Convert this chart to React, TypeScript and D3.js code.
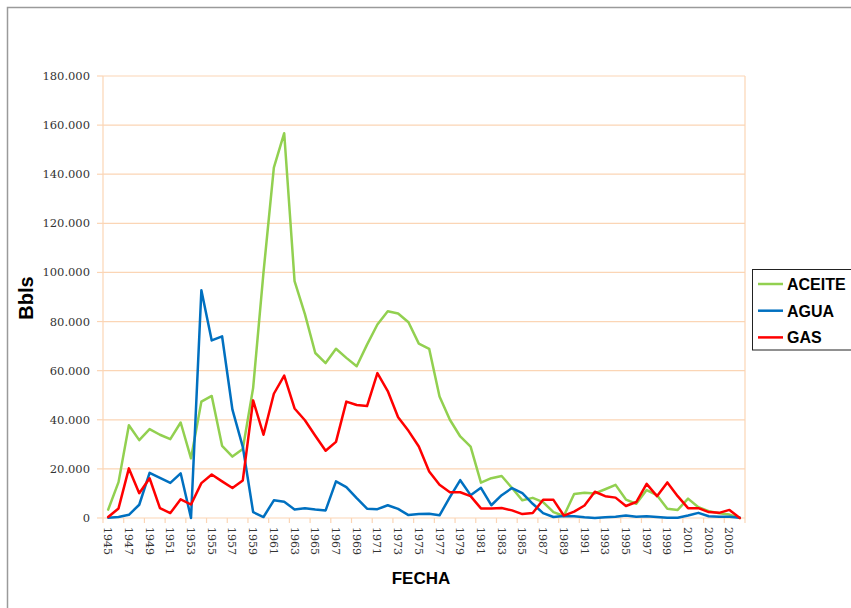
import React from "react";
import * as d3 from "d3";

// Producción anual por año (Bbls)
const years: number[] = [
  1945, 1946, 1947, 1948, 1949, 1950, 1951, 1952, 1953, 1954,
  1955, 1956, 1957, 1958, 1959, 1960, 1961, 1962, 1963, 1964,
  1965, 1966, 1967, 1968, 1969, 1970, 1971, 1972, 1973, 1974,
  1975, 1976, 1977, 1978, 1979, 1980, 1981, 1982, 1983, 1984,
  1985, 1986, 1987, 1988, 1989, 1990, 1991, 1992, 1993, 1994,
  1995, 1996, 1997, 1998, 1999, 2000, 2001, 2002, 2003, 2004,
  2005, 2006,
];

const aceite: number[] = [
  3400, 14600, 37800, 31700, 36200, 33900, 32100, 38900, 24300, 47400,
  49700, 29400, 25000, 28100, 53000, 100000, 142700, 156700, 96500, 83000,
  67200, 63100, 68900, 65200, 61800, 70600, 78800, 84200, 83300, 79700,
  71000, 68900, 49500, 40000, 33200, 29100, 14400, 16200, 17100, 12200,
  7200, 8200, 6500, 2400, 800, 9800, 10300, 10000, 11700, 13500,
  7500, 5800, 11400, 9300, 3800, 3300, 7900, 4400, 2800, 1900,
  1400, 0,
];

const agua: number[] = [
  100, 400, 1300, 5400, 18400, 16300, 14300, 18200, 0, 92700,
  72300, 74000, 44100, 29000, 2400, 400, 7200, 6600, 3500, 4000,
  3500, 3100, 14900, 12600, 8100, 3800, 3600, 5200, 3700, 1200,
  1600, 1700, 1100, 8500, 15400, 9300, 12300, 5200, 9300, 12200,
  10100, 5800, 2000, 400, 800, 700, 300, 0, 300, 500,
  1000, 500, 700, 400, 100, 100, 1000, 2100, 700, 500,
  500, 100,
];

const gas: number[] = [
  400, 3900, 20200, 10100, 16200, 4000, 2000, 7600, 5500, 14200,
  17700, 14900, 12200, 15300, 47900, 33900, 50600, 58000, 44600, 39800,
  33500, 27400, 31000, 47400, 46000, 45600, 59000, 51700, 41000, 35500,
  29100, 18900, 13500, 10500, 10500, 8900, 3900, 3900, 4100, 3100,
  1600, 2000, 7400, 7400, 1000, 2600, 5100, 10700, 8900, 8300,
  4900, 6500, 13900, 8900, 14500, 8900, 4000, 4000, 2400, 2100,
  3300, 0,
];

const yTicks: number[] = [0, 20000, 40000, 60000, 80000, 100000, 120000, 140000, 160000, 180000];

const seriesNames = ["ACEITE", "AGUA", "GAS"];
const seriesColors = ["#92D050", "#0070C0", "#FF0000"];

const W = 851;
const H = 608;
const plot = { left: 103, right: 745, top: 76, bottom: 518 };

const grid = "#FBD5B5";

const locale = d3.formatLocale({
  decimal: ",",
  thousands: ".",
  grouping: [3],
  currency: ["$", ""],
});
const fmt = locale.format(",d");

export default function App() {
  const x = d3
    .scaleBand<number>()
    .domain(years)
    .range([plot.left, plot.right])
    .paddingInner(0)
    .paddingOuter(0);
  const bw = x.bandwidth();
  const cx = (yr: number) => (x(yr) as number) + bw / 2;

  const y = d3.scaleLinear().domain([0, 180000]).range([plot.bottom, plot.top]);

  const line = d3
    .line<number>()
    .x((_, i) => cx(years[i]))
    .y((v) => y(v));

  const series = [aceite, agua, gas];

  // category-boundary tick marks, every second category
  const boundaries: number[] = [];
  for (let k = 0; k <= years.length; k += 2) {
    boundaries.push(plot.left + k * bw);
  }
  const labelYears = years.filter((_, i) => i % 2 === 0 && years[i] <= 2005);

  const serif = "'DejaVu Serif', 'Liberation Serif', serif";
  const sans = "'Liberation Sans', Arial, sans-serif";

  return (
    <svg
      width={W}
      height={H}
      viewBox={`0 0 ${W} ${H}`}
      style={{ position: "absolute", left: 0, top: 0, background: "#fff" }}
    >
      {/* chart frame */}
      <rect x={7.5} y={7.5} width={W + 20} height={H + 20} fill="#fff" stroke="#9a9a9a" strokeWidth={1.5} />

      {/* horizontal gridlines */}
      {yTicks.map((t) => (
        <line key={`g${t}`} x1={plot.left} x2={plot.right} y1={y(t)} y2={y(t)} stroke={grid} strokeWidth={1.2} />
      ))}
      {/* plot borders */}
      <line x1={plot.left} x2={plot.left} y1={plot.top} y2={plot.bottom} stroke={grid} strokeWidth={1.2} />
      <line x1={plot.right} x2={plot.right} y1={plot.top} y2={plot.bottom} stroke={grid} strokeWidth={1.2} />

      {/* y ticks and labels */}
      {yTicks.map((t) => (
        <g key={`yt${t}`}>
          <line x1={plot.left - 6} x2={plot.left} y1={y(t)} y2={y(t)} stroke={grid} strokeWidth={1.2} />
          <text
            x={90}
            y={y(t)}
            dy="0.35em"
            textAnchor="end"
            fontFamily={serif}
            fontSize={11.5}
            fill="#333"
          >
            {fmt(t)}
          </text>
        </g>
      ))}

      {/* x ticks */}
      {boundaries.map((b, i) => (
        <line key={`xt${i}`} x1={b} x2={b} y1={plot.bottom} y2={plot.bottom + 5} stroke={grid} strokeWidth={1.2} />
      ))}
      {labelYears.map((yr) => (
        <text
          key={`xl${yr}`}
          transform={`translate(${cx(yr)},${plot.bottom + 9}) rotate(90)`}
          dy="0.36em"
          textAnchor="start"
          fontFamily={serif}
          fontSize={11}
          fill="#333"
        >
          {yr}
        </text>
      ))}

      {/* series lines */}
      {series.map((s, i) => (
        <path
          key={seriesNames[i]}
          d={line(s) as string}
          fill="none"
          stroke={seriesColors[i]}
          strokeWidth={2.5}
          strokeLinejoin="round"
          strokeLinecap="round"
        />
      ))}

      {/* axis titles */}
      <text
        transform={`translate(33,298) rotate(-90)`}
        textAnchor="middle"
        fontFamily={sans}
        fontWeight="bold"
        fontSize={20}
        fill="#000"
      >
        Bbls
      </text>
      <text x={421} y={584} textAnchor="middle" fontFamily={sans} fontWeight="bold" fontSize={17} fill="#000">
        FECHA
      </text>

      {/* legend */}
      <rect x={752.5} y={269.5} width={130} height={80.5} fill="#fff" stroke="#222" strokeWidth={1} />
      {seriesNames.map((n, i) => {
        const ly = 284 + i * 26.7;
        return (
          <g key={`lg${n}`}>
            <line x1={758} x2={783} y1={ly} y2={ly} stroke={seriesColors[i]} strokeWidth={2.5} />
            <text x={787} y={ly + 5.8} fontFamily={sans} fontWeight="bold" fontSize={16} fill="#000">
              {n}
            </text>
          </g>
        );
      })}
    </svg>
  );
}
